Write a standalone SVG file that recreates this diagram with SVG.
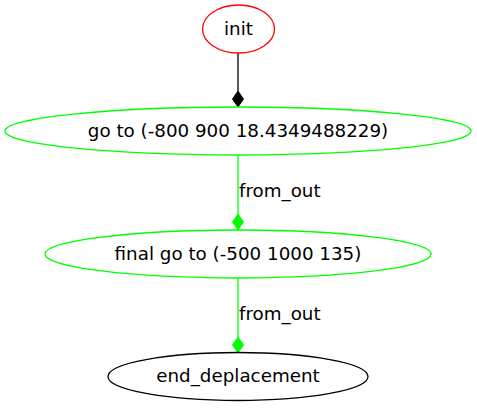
<svg xmlns="http://www.w3.org/2000/svg" width="477" height="408" viewBox="0 0 477 408">
<style>
text{font-family:"DejaVu Sans",sans-serif;font-size:18.3px;fill:#000}
.n{text-anchor:middle}
ellipse{fill:none;stroke-width:1.3}
.red{stroke:#ff0000}
.green{stroke:#00ff00}
.black{stroke:#000}
.e{fill:none;stroke-width:1.3}
</style>
<rect width="477" height="408" fill="#fff"/>
<g id="connectors">
<g id="e1"><path class="e" d="M238,53 L238,91" stroke="#000"/><polygon points="238,91 243.5,99 238,107 232.5,99" fill="#000" stroke="#000"/></g>
<g id="e2"><path class="e" d="M238,155 L238,214" stroke="#00ff00"/><polygon points="238,214 243.5,222 238,230 232.5,222" fill="#00ff00" stroke="#00ff00"/><text x="239" y="197">from_out</text></g>
<g id="e3"><path class="e" d="M238,278 L238,337" stroke="#00ff00"/><polygon points="238,337 243.5,345 238,353 232.5,345" fill="#00ff00" stroke="#00ff00"/><text x="239" y="320">from_out</text></g>
</g>
<g id="init"><ellipse class="red" cx="238.5" cy="29" rx="36" ry="24"/><text class="n" x="238.5" y="35">init</text></g>
<g id="goto"><ellipse class="green" cx="238" cy="131" rx="233" ry="24"/><text class="n" x="238" y="137">go to (-800 900 18.4349488229)</text></g>
<g id="finalgoto"><ellipse class="green" cx="238" cy="254" rx="193" ry="24"/><text class="n" x="238" y="260">final go to (-500 1000 135)</text></g>
<g id="end_deplacement"><ellipse class="black" cx="238" cy="376.5" rx="130" ry="24"/><text class="n" x="238" y="382">end_deplacement</text></g>
</svg>
